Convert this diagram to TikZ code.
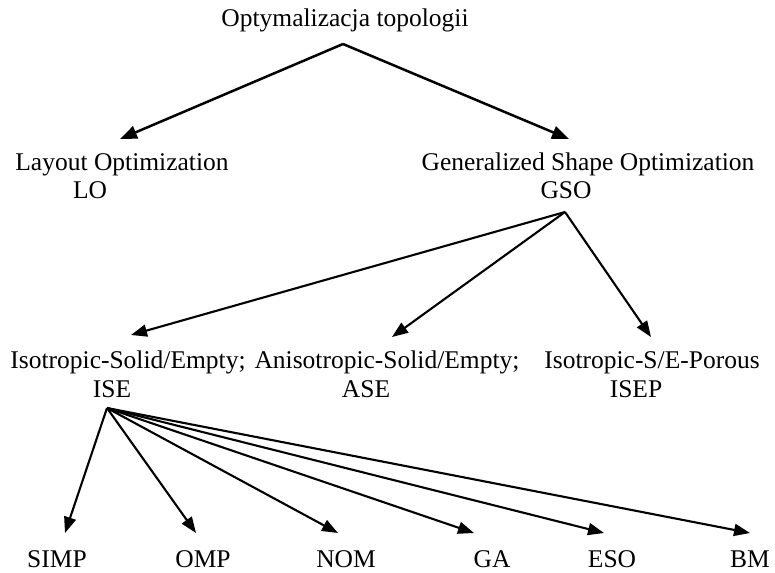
\documentclass[tikz,border=0pt]{standalone}
\usepackage{fontspec}
\setmainfont{Liberation Serif}
\usetikzlibrary{arrows.meta}
\begin{document}
\begin{tikzpicture}[x=1pt,y=-1pt,
  lbl/.style={anchor=base,inner sep=0pt,font=\fontsize{25.5}{28}\selectfont},
  conn/.style={line width=2.1pt,-{Triangle[length=16pt,width=12pt]}},
  conntop/.style={line width=2.5pt,-{Triangle[length=17pt,width=13pt]}}]
\useasboundingbox (0,0) rectangle (775,572);
% texts
\node[lbl] (title) at (345,27) {Optymalizacja topologii};
\node[lbl] (lo1) at (122,170) {Layout Optimization};
\node[lbl] (lo2) at (90,198) {LO};
\node[lbl] (gso1) at (588,170) {Generalized Shape Optimization};
\node[lbl] (gso2) at (566,198) {GSO};
\node[lbl] (ise1) at (128,368) {Isotropic-Solid/Empty;};
\node[lbl] (ise2) at (112,397) {ISE};
\node[lbl] (ase1) at (387,368) {Anisotropic-Solid/Empty;};
\node[lbl] (ase2) at (366,397) {ASE};
\node[lbl] (isep1) at (652,368) {Isotropic-S/E-Porous};
\node[lbl] (isep2) at (636,397) {ISEP};
\node[lbl] (simp) at (57,567) {SIMP};
\node[lbl] (omp) at (203,567) {OMP};
\node[lbl] (nom) at (346,567) {NOM};
\node[lbl] (ga) at (492,567) {GA};
\node[lbl] (eso) at (612,567) {ESO};
\node[lbl] (bm) at (750,567) {BM};
% connector points
\coordinate (tA) at (343,44);
\coordinate (loT) at (120,139);
\coordinate (gsoT) at (569,139);
\coordinate (gA) at (565,212);
\coordinate (iseT) at (131,335);
\coordinate (aseT) at (392,337);
\coordinate (isepT) at (651,337);
\coordinate (iA) at (107,408);
\coordinate (simpT) at (65,533);
\coordinate (ompT) at (196,533);
\coordinate (nomT) at (338,533);
\coordinate (gaT) at (474,533);
\coordinate (esoT) at (604,533);
\coordinate (bmT) at (750,533);
% connectors
\draw[conntop] (tA) -- (loT);
\draw[conntop] (tA) -- (gsoT);
\draw[conn] (gA) -- (iseT);
\draw[conn] (gA) -- (aseT);
\draw[conn] (gA) -- (isepT);
\foreach \t in {simpT,ompT,nomT,gaT,esoT,bmT}
  \draw[conn] (iA) -- (\t);
\end{tikzpicture}
\end{document}
